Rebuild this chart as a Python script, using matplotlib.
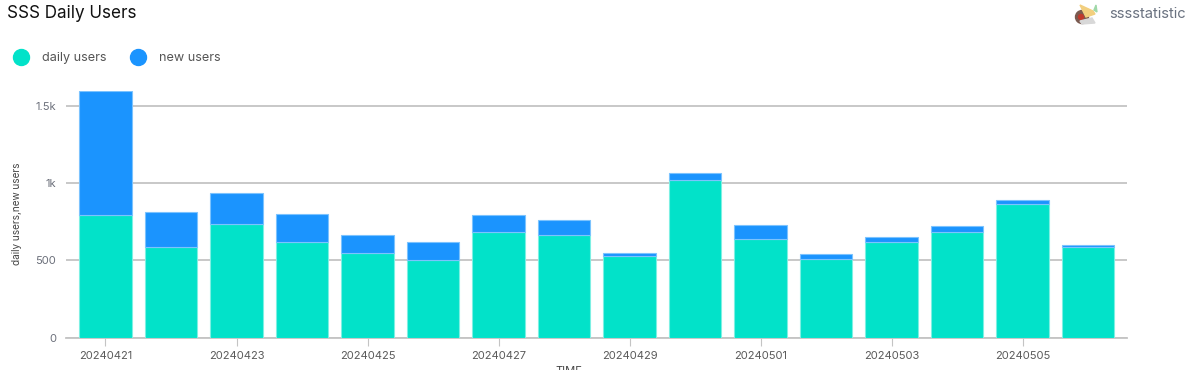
import matplotlib
matplotlib.use('Agg')
import matplotlib.pyplot as plt
from matplotlib.lines import Line2D
from matplotlib.patches import Polygon, Circle

plt.rcParams['font.family'] = ['Inter', 'DejaVu Sans']

dates = ["20240421", "20240422", "20240423", "20240424", "20240425", "20240426", "20240427", "20240428",
         "20240429", "20240430", "20240501", "20240502", "20240503", "20240504", "20240505", "20240506"]
daily_users = [795, 586, 735, 619, 548, 502, 684, 665, 528, 1022, 639, 509, 619, 684, 866, 586]
new_users = [805, 229, 202, 181, 117, 117, 111, 97, 20, 45, 91, 32, 33, 39, 26, 14]
y_ticks = [0, 500, 1000, 1500]
y_tick_labels = ["0", "500", "1k", "1.5k"]

W, H = 1200, 370
TEAL = '#02e2c9'
BLUE = '#1b94fe'

fig = plt.figure(figsize=(W / 100, H / 100), dpi=100)
ax = fig.add_axes([66 / W, 1 - 337.5 / H, (1127 - 66) / W, (337.5 - 91) / H])

x = list(range(len(dates)))
ax.bar(x, daily_users, width=0.8, color=TEAL, edgecolor='#7df0e3', linewidth=0.8, zorder=3)
ax.bar(x, new_users, width=0.8, bottom=daily_users, color=BLUE, edgecolor='#7cc3fe', linewidth=0.8, zorder=3)

ax.set_xlim(-0.603, 15.595)
ax.set_ylim(0, 1600)

# gridlines, the axis keeps only the bottom line
ax.set_yticks(y_ticks, labels=y_tick_labels, fontsize=8, color='#6b6f7a')
ax.set_xticks(x[::2], labels=dates[::2], fontsize=8, color='#5a5a5a')
ax.tick_params(axis='y', length=0, pad=7)
ax.tick_params(axis='x', length=6, width=0.8, color='#c4c4c4', pad=4)
ax.grid(True, axis='y', color='#c4c4c4', linewidth=1.3, zorder=0)
ax.set_axisbelow(True)
for side in ['top', 'right', 'left']:
    ax.spines[side].set_visible(False)
ax.spines['bottom'].set_color('#c4c4c4')
ax.spines['bottom'].set_linewidth(1.3)

# the axis title sits mostly below the image edge in the reference
fig.text(569 / W, 1 - 370.5 / H, 'TIME', fontsize=8, color='#444444', ha='center', va='center')
fig.text(17.5 / W, 1 - 213.5 / H, 'daily users,new users', fontsize=7.2, color='#444444', rotation=90,
         ha='center', va='center')

fig.text(7 / W, 1 - 13.5 / H, 'SSS Daily Users', fontsize=12.3, color='#111111', ha='left', va='center')
fig.text(1109 / W, 1 - 14.5 / H, 'sssstatistic', fontsize=10.6, color='#6a7280', ha='left', va='center')

handles = [Line2D([], [], linestyle='', marker='o', markersize=11.5, color=TEAL, label='daily users'),
           Line2D([], [], linestyle='', marker='o', markersize=11.5, color=BLUE, label='new users')]
fig.legend(handles=handles, loc='center left', bbox_to_anchor=(11 / W, 1 - 58 / H), frameon=False, ncol=2,
           fontsize=9.1, labelcolor='#555555', handletextpad=0.86, columnspacing=1.72, handlelength=1.6,
           borderpad=0, borderaxespad=0)

# small avatar next to the user name
icon = fig.add_axes([1073 / W, 1 - 26 / H, 28 / W, 24 / H])
icon.set_xlim(0, 28)
icon.set_ylim(24, 0)
icon.axis('off')
icon.add_patch(Circle((9, 15), 6.5, color='#7a5a50'))
icon.add_patch(Circle((8, 15), 2.5, color='#c0392b'))
icon.add_patch(Polygon([[7, 19], [19, 16], [22, 21], [9, 22]], color='#d8d8d8'))
icon.add_patch(Polygon([[7, 3], [20, 9], [22, 12], [13, 15]], color='#f2cf7e'))
icon.add_patch(Polygon([[21, 8], [23, 3], [24, 10]], color='#9fd8a8'))

fig.savefig('out.png', dpi=100)
